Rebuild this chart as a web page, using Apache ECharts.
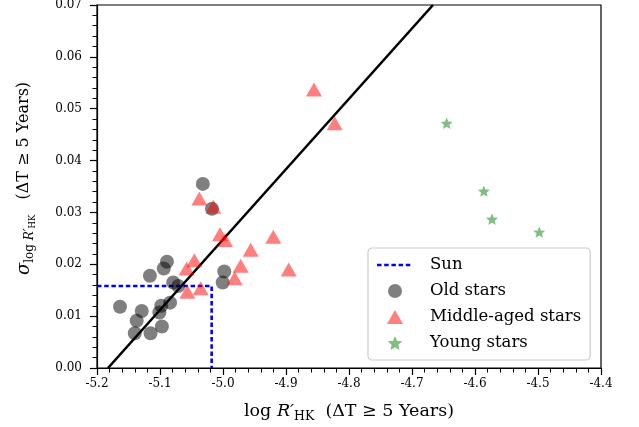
<!DOCTYPE html>
<html><head><meta charset="utf-8">
<script src="https://cdn.jsdelivr.net/npm/echarts@6/dist/echarts.min.js"></script>
<style>html,body{margin:0;padding:0;background:#fff}#c{width:639px;height:427px}</style>
</head><body><div id="c"></div>
<script>
// ---- data ----
const oldX = [-5.032, -5.0175, -5.089, -5.094, -5.116, -5.079, -5.071, -4.998, -5.0005, -5.1635, -5.129, -5.098, -5.084, -5.101, -5.137, -5.140, -5.115, -5.097];
const oldY = [0.0355, 0.0307, 0.0205, 0.0192, 0.0178, 0.0165, 0.0158, 0.0186, 0.0165, 0.0118, 0.0110, 0.0120, 0.0126, 0.0107, 0.0091, 0.0067, 0.0067, 0.0080];
const midX = [-5.0376, -5.0154, -5.0048, -4.9968, -4.9202, -4.956, -4.9719, -4.9815, -5.0455, -5.0577, -5.0566, -5.0354, -4.8556, -4.8227, -4.8957];
const midY = [0.0327, 0.0311, 0.0258, 0.0247, 0.0253, 0.0228, 0.0197, 0.0173, 0.0208, 0.0192, 0.0147, 0.0154, 0.0537, 0.0472, 0.0190];
const youngX = [-4.645, -4.586, -4.573, -4.498];
const youngY = [0.0472, 0.0341, 0.0287, 0.0262];
const sunX = -5.018, sunY = 0.0158;
const fitX = [-5.1825, -4.6667];
const fitY = [0.0, 0.07];
const xTicks = [-5.2, -4.4, 0.1];
const yTicks = [0, 0.07, 0.01];

const zip = (a, b) => a.map((v, i) => [v, b[i]]);
function starPath() {
  let pts = [];
  for (let i = 0; i < 10; i++) {
    const r = i % 2 === 0 ? 1 : 0.45;
    const a = -Math.PI / 2 + i * Math.PI / 5;
    pts.push((r * Math.cos(a)).toFixed(3) + ',' + (r * Math.sin(a)).toFixed(3));
  }
  return 'path://M' + pts.join('L') + 'Z';
}
const STAR = starPath();
const TRI = 'path://M8,0L16,14L0,14Z';
const FONT = 'DejaVu Serif';
const SUN_STYLE = { color: '#0000ff', width: 2.6, dash: [4.5, 2.7] };

const chart = echarts.init(document.getElementById('c'));
chart.setOption({
  animation: false,
  backgroundColor: '#fff',
  textStyle: { fontFamily: FONT },
  grid: { left: 97, right: 38, top: 5, bottom: 59, show: true, borderColor: '#000', borderWidth: 1.2, backgroundColor: 'transparent', containLabel: false, outerBoundsMode: 'none' },
  xAxis: {
    type: 'value', min: xTicks[0], max: xTicks[1], interval: xTicks[2],
    axisLine: { lineStyle: { color: '#000', width: 1.2 } },
    axisTick: { length: 7, lineStyle: { color: '#000', width: 1.2 } },
    minorTick: { show: true, splitNumber: 5, length: 4.5, lineStyle: { color: '#000', width: 1 } },
    splitLine: { show: false },
    axisLabel: { color: '#000', fontFamily: FONT, fontSize: 12, margin: 10, formatter: v => v.toFixed(1) },
    name: '{t|log }{i|R′}{s|HK}{t|  (ΔT ≥ 5 Years)}',
    nameLocation: 'middle', nameGap: 32,
    nameTextStyle: {
      rich: {
        t: { fontFamily: FONT, fontSize: 17.5, color: '#000', lineHeight: 22 },
        i: { fontFamily: FONT, fontSize: 17.5, fontStyle: 'italic', color: '#000', lineHeight: 22 },
        s: { fontFamily: FONT, fontSize: 12.5, color: '#000', padding: [11, 0, 0, 0], lineHeight: 22 }
      }
    }
  },
  yAxis: {
    type: 'value', min: yTicks[0], max: yTicks[1], interval: yTicks[2],
    axisLine: { lineStyle: { color: '#000', width: 1.2 } },
    axisTick: { length: 7, lineStyle: { color: '#000', width: 1.2 } },
    minorTick: { show: true, splitNumber: 5, length: 4.5, lineStyle: { color: '#000', width: 1 } },
    splitLine: { show: false },
    axisLabel: { color: '#000', fontFamily: FONT, fontSize: 12, margin: 15, formatter: v => v.toFixed(2) },
    name: '{i|σ}{s|log }{si|R′}{ss|HK}{t|   (ΔT ≥ 5 Years)}',
    nameLocation: 'middle', nameGap: 61, nameRotate: 90,
    nameTextStyle: {
      rich: {
        t: { fontFamily: FONT, fontSize: 16, color: '#000', lineHeight: 24 },
        i: { fontFamily: FONT, fontSize: 18, fontStyle: 'italic', color: '#000', lineHeight: 24, padding: [0, 0, 0, 16] },
        s: { fontFamily: FONT, fontSize: 12, color: '#000', padding: [12, 0, 0, 0], lineHeight: 24 },
        si: { fontFamily: FONT, fontSize: 12, fontStyle: 'italic', color: '#000', padding: [12, 0, 0, 0], lineHeight: 24 },
        ss: { fontFamily: FONT, fontSize: 8.5, color: '#000', padding: [18, 0, 0, 0], lineHeight: 24 }
      }
    }
  },
  legend: {
    orient: 'vertical', left: 368, top: 248,
    padding: [8, 9, 8, 9],
    itemWidth: 36, itemHeight: 14, itemGap: 8,
    backgroundColor: 'rgba(255,255,255,0.85)',
    borderColor: '#cccccc', borderWidth: 1.2, borderRadius: 4,
    textStyle: { fontFamily: FONT, fontSize: 16.5, lineHeight: 18, color: '#000', padding: [0, 0, 0, 12] },
    data: [{ name: 'Sun', icon: 'none' }, 'Old stars', 'Middle-aged stars', 'Young stars']
  },
  graphic: [{
    type: 'line', z: 100,
    shape: { x1: 377, y1: 265, x2: 413, y2: 265 },
    style: { stroke: SUN_STYLE.color, lineWidth: SUN_STYLE.width, lineDash: SUN_STYLE.dash }
  }],
  series: [
    {
      name: 'fit', type: 'line', data: zip(fitX, fitY), symbol: 'none', z: 1,
      lineStyle: { color: '#000', width: 2.6 }, silent: true
    },
    {
      name: 'Sun', type: 'line', symbol: 'none', z: 1,
      data: [[xTicks[0], sunY], [sunX, sunY], [sunX, 0]],
      lineStyle: { color: SUN_STYLE.color, width: SUN_STYLE.width, type: SUN_STYLE.dash },
      itemStyle: { color: SUN_STYLE.color }
    },
    {
      name: 'Old stars', type: 'scatter', data: zip(oldX, oldY), symbol: 'circle', symbolSize: 14, z: 3,
      itemStyle: { color: 'rgba(0,0,0,0.5)', opacity: 1 }
    },
    {
      name: 'Middle-aged stars', type: 'scatter', data: zip(midX, midY), symbol: TRI, symbolSize: 16, symbolKeepAspect: true, z: 4,
      itemStyle: { color: 'rgba(255,0,0,0.5)', opacity: 1 }
    },
    {
      name: 'Young stars', type: 'scatter', data: zip(youngX, youngY), symbol: STAR, symbolSize: 12, symbolKeepAspect: true, z: 5,
      itemStyle: { color: 'rgba(0,128,0,0.5)', opacity: 1 }
    }
  ]
});
</script></body></html>
